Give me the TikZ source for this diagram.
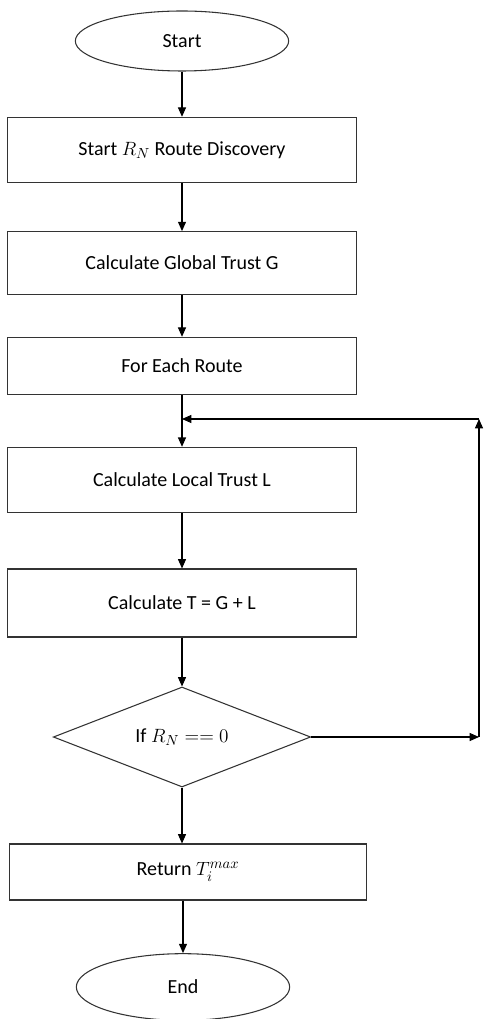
\documentclass[tikz,border=0pt]{standalone}
\usepackage{fontspec}
\setmainfont{Carlito}
\usepackage{amsmath}
\usetikzlibrary{shapes.geometric,arrows.meta}

\tikzset{
    flowbox/.style={draw=black!80, thick, rectangle, minimum width=262pt, minimum height=49pt, inner sep=0pt, font=\fontsize{15}{18}\selectfont},
    term/.style={draw=black!80, thick, ellipse, minimum width=160pt, minimum height=45pt, inner sep=0pt, font=\fontsize{15}{18}\selectfont},
    decide/.style={draw=black!80, thick, diamond, aspect=2.57, minimum width=193pt, minimum height=75pt, inner sep=0pt, font=\fontsize{15}{18}\selectfont},
    flow/.style={black, thick, -{Triangle[length=7pt,width=6pt]}}
}

\begin{document}
\begin{tikzpicture}[x=0.75pt, y=-0.75pt]
        \useasboundingbox (0,0) rectangle (484,1019);
        \node[term] (start) at (182,41) {Start};
        \node[flowbox] (disc) at (182,150) {Start $R_N$ Route Discovery};
        \node[flowbox, minimum height=47pt] (glob) at (182,263) {Calculate Global Trust G};
        \node[flowbox, minimum height=43pt] (each) at (182,366) {For Each Route};
        \node[flowbox] (local) at (182,480) {Calculate Local Trust L};
        \node[flowbox, minimum height=51pt] (sum) at (182,603) {Calculate T = G + L};
        \node[decide] (check) at (182,737) {If $R_N == 0$};
        \node[flowbox, minimum width=268pt, minimum height=42pt] (ret) at (188,872) {Return $T_i^{max}$};
        \node[term, minimum height=50pt] (end) at (183,987) {End};
        \coordinate (top) at (479,419);
        \coordinate (corner) at (check.east -| top);
        \coordinate (join) at (182,419);
        \draw[flow] (start) -- (disc);
        \draw[flow] (disc) -- (glob);
        \draw[flow] (glob) -- (each);
        \draw[flow] (each) -- (local);
        \draw[flow] (local) -- (sum);
        \draw[flow] (sum) -- (check);
        \draw[flow] (check.south) -- (check.south |- ret.north);
        \draw[flow] (ret.south -| end) -- (end);
        % loop back
        \draw[flow] (check.east) -- (corner);
        \draw[flow] (corner) -- (top);
        \draw[flow] (top) -- (join);
    \end{tikzpicture}
\end{document}
